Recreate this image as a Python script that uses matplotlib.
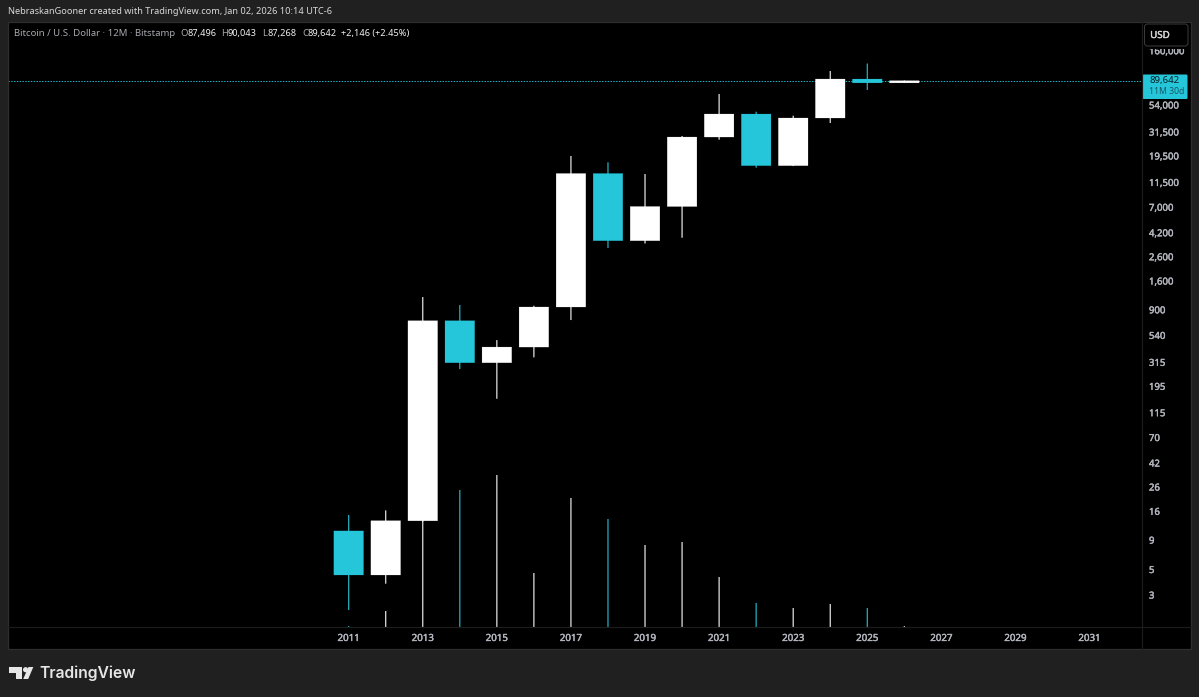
import numpy as np
import matplotlib
matplotlib.use("Agg")
import matplotlib.pyplot as plt
import matplotlib.patheffects as pe
from matplotlib.patches import Rectangle, FancyBboxPatch, Polygon, Circle
from matplotlib.transforms import ScaledTranslation

# ---- data ----
years = [2011, 2012, 2013, 2014, 2015, 2016, 2017, 2018, 2019, 2020, 2021, 2022, 2023, 2024, 2025, 2026]
opens = [11.03, 4.57, 13.5, 738, 318.5, 436, 971, 14014, 3655, 7244, 29067, 46050, 16390, 42520, 92700, 85770]
highs = [15.16, 16.64, 1185, 1011, 501, 996, 19884, 17530, 13875, 29660, 68700, 48200, 44520, 108840, 126400, 90043]
lows = [2.27, 3.84, 13.3, 281, 155, 355, 748, 3159, 3456, 3880, 27560, 15730, 16250, 38470, 74430, 85770]
closes = [4.57, 13.53, 738, 318.5, 436, 971, 14014, 3655, 7244, 29067, 46050, 16390, 42520, 92700, 85770, 89642]
volumes = [40, 640, 4680, 5480, 6080, 2160, 5160, 4320, 3280, 3400, 2000, 960, 760, 920, 760, 40]
price_ticks = [160000, 54000, 31500, 19500, 11500, 7000, 4200, 2600, 1600, 900, 540, 315, 195, 115, 70, 42, 26, 16, 9, 5, 3]
year_ticks = [2011, 2013, 2015, 2017, 2019, 2021, 2023, 2025, 2027, 2029, 2031]
last_price = 89642

# ---- style / layout ----
W, H = 1199, 697
BG = "#202020"
TEAL = "#26c6da"
TXT = "#b2b5bd"
FONT = ["Noto Sans", "DejaVu Sans"]
plt.rcParams["font.family"] = FONT
px = 0.72  # one pixel in points at dpi 100

PANE_L, PANE_R, PANE_T, PANE_B = 8, 1142, 22, 627
X0_PX, STEP = 348.7, 37.04          # pixel of first year, pixels per year
Y_REF_PX, LOG_REF, PPD = 80.7, np.log10(last_price), 115.15  # price scale anchor

fig = plt.figure(figsize=(W / 100, H / 100), dpi=100, facecolor=BG)
rect = [PANE_L / W, 1 - PANE_B / H, (PANE_R - PANE_L) / W, (PANE_B - PANE_T) / H]

# black panel behind everything (chart, price axis, time axis)
bg = fig.add_axes([0, 0, 1, 1], facecolor="none", zorder=0)
bg.set_xlim(0, W); bg.set_ylim(H, 0); bg.axis("off")
bg.add_patch(Rectangle((8, 22), 1183, 627, fc="black", ec="none"))

ax_vol = fig.add_axes(rect, facecolor="black", zorder=1)
ax = fig.add_axes(rect, facecolor="none", zorder=2)

xlim = (years[0] + (PANE_L - X0_PX) / STEP, years[0] + (PANE_R - X0_PX) / STEP)
ylim = (10 ** (LOG_REF - (PANE_B - Y_REF_PX) / PPD), 10 ** (LOG_REF + (Y_REF_PX - PANE_T) / PPD))

colors = ["white" if c >= o else TEAL for o, c in zip(opens, closes)]

# volume lines
ax_vol.set_xlim(xlim)
ax_vol.set_ylim(0, 24200)
vc = ax_vol.vlines(years, 0, volumes, colors=colors, linewidth=1.1 * px)
vc.set_snap(False)
ax_vol.set_xticks([]); ax_vol.set_yticks([])
for s in ax_vol.spines.values():
    s.set_visible(False)

# candles
ax.set_yscale("log")
ax.set_xlim(xlim)
ax.set_ylim(ylim)
wc = ax.vlines(years, lows, highs, colors=colors, linewidth=1.1 * px, zorder=2)
wc.set_snap(False)
bottoms = [min(o, c) for o, c in zip(opens, closes)]
tops = [max(o, c) for o, c in zip(opens, closes)]
bars = ax.bar(years, np.array(tops) - np.array(bottoms), bottom=bottoms, width=0.8,
              color=colors, edgecolor=colors, linewidth=0.2 * px, zorder=3)
for b in bars:
    b.set_snap(False)

# last price line
ax.axhline(last_price, color="#1fb4c8", linewidth=1 * px, dashes=(1.4, 1.4), zorder=2.5)

# axes ticks
ax.yaxis.tick_right()
ax.minorticks_off()
ax.set_yticks(price_ticks)
ax.set_yticklabels([f"{v:,}" for v in price_ticks])
ax.tick_params(axis="y", which="both", length=0, pad=5, labelsize=6.9, labelcolor=TXT)
ax.set_xticks(year_ticks)
ax.set_xticklabels([str(y) for y in year_ticks])
ax.tick_params(axis="x", length=0, pad=5, labelsize=7.0, labelcolor=TXT)
for s in ax.spines.values():
    s.set_visible(False)
heavy = [pe.withStroke(linewidth=0.3, foreground=TXT)]
shift = ScaledTranslation(0, 1 / 100, fig.dpi_scale_trans)
for lab in ax.get_yticklabels():
    lab.set_path_effects(heavy)
    lab.set_transform(lab.get_transform() + shift)
for lab in ax.get_xticklabels():
    lab.set_path_effects(heavy)

# overlay in pixel coordinates
ov = fig.add_axes([0, 0, 1, 1], facecolor="none", zorder=5)
ov.set_xlim(0, W); ov.set_ylim(H, 0); ov.axis("off")

# frame and separators
ov.add_patch(Rectangle((8, 22), 1183, 627, fill=False, ec="#2e2e2e", lw=1.3 * px))
ov.plot([1142, 1142], [22, 649], color="#1c1c1c", lw=1.2 * px)
ov.plot([8, 1191], [627.3, 627.3], color="#1c1c1c", lw=1.2 * px)

# USD button
ov.add_patch(Rectangle((1143, 23), 47, 25.5, fc="black", ec="none"))
ov.add_patch(FancyBboxPatch((1146, 25.5), 40.5, 19, boxstyle="round,pad=1.5,rounding_size=3",
                            fc="black", ec="#3a3a3a", lw=1 * px))
ov.text(1160, 35.5, "USD", color="#d6d6d6", fontsize=7.0, ha="center", va="center",
        path_effects=[pe.withStroke(linewidth=0.3, foreground="#d6d6d6")])

# last price badge
ov.add_patch(FancyBboxPatch((1142.5, 74.5), 45, 24.5, boxstyle="round,pad=0,rounding_size=1.2",
                            fc=TEAL, ec="none"))
ov.text(1149, 80, f"{last_price:,}", color="#0c2024", fontsize=6.9, ha="left", va="center")
ov.text(1149, 92, "11M 30d", color="#155a66", fontsize=6.2, ha="left", va="center")

# title line
ov.text(8, 12, "NebraskanGooner created with TradingView.com, Jan 02, 2026 10:14 UTC-6",
        color="#d8d8d8", fontsize=6.62, fontweight="bold", ha="left", va="center")

# legend line
LY = 33.5
ov.text(14, LY, "Bitcoin / U.S. Dollar · 12M · Bitstamp", color="#a6a8ad", fontsize=6.9, ha="left", va="center")
for lab, lx, val, vx in [("O", 180, "87,496", 187), ("H", 221, "90,043", 227),
                         ("L", 262, "87,268", 267), ("C", 302, "89,642", 308)]:
    ov.text(lx, LY, lab, color="#a6a8ad", fontsize=6.9, ha="left", va="center")
    ov.text(vx, LY, val, color="#f0f0f0", fontsize=6.6, fontweight="bold", ha="left", va="center")
ov.text(341, LY, "+2,146 (+2.45%)", color="#f0f0f0", fontsize=6.6, fontweight="bold", ha="left", va="center")

# TradingView logo and wordmark
LOGO = "#e6e6e6"
ov.add_patch(Polygon([(9.3, 667), (22, 667), (22, 679), (15.5, 679), (15.5, 672.5), (9.3, 672.5)], fc=LOGO, ec="none"))
ov.add_patch(Circle((25.6, 669.7), 2.6, fc=LOGO, ec="none"))
ov.add_patch(Polygon([(28.5, 667), (33.3, 667), (28.2, 679), (23.2, 679)], fc=LOGO, ec="none"))
ov.text(39.5, 673.5, "TradingView", color=LOGO, fontsize=11.3, family=["Inter", "DejaVu Sans"], fontweight="semibold",
        ha="left", va="center")

fig.savefig("out.png", dpi=100, facecolor=BG)
